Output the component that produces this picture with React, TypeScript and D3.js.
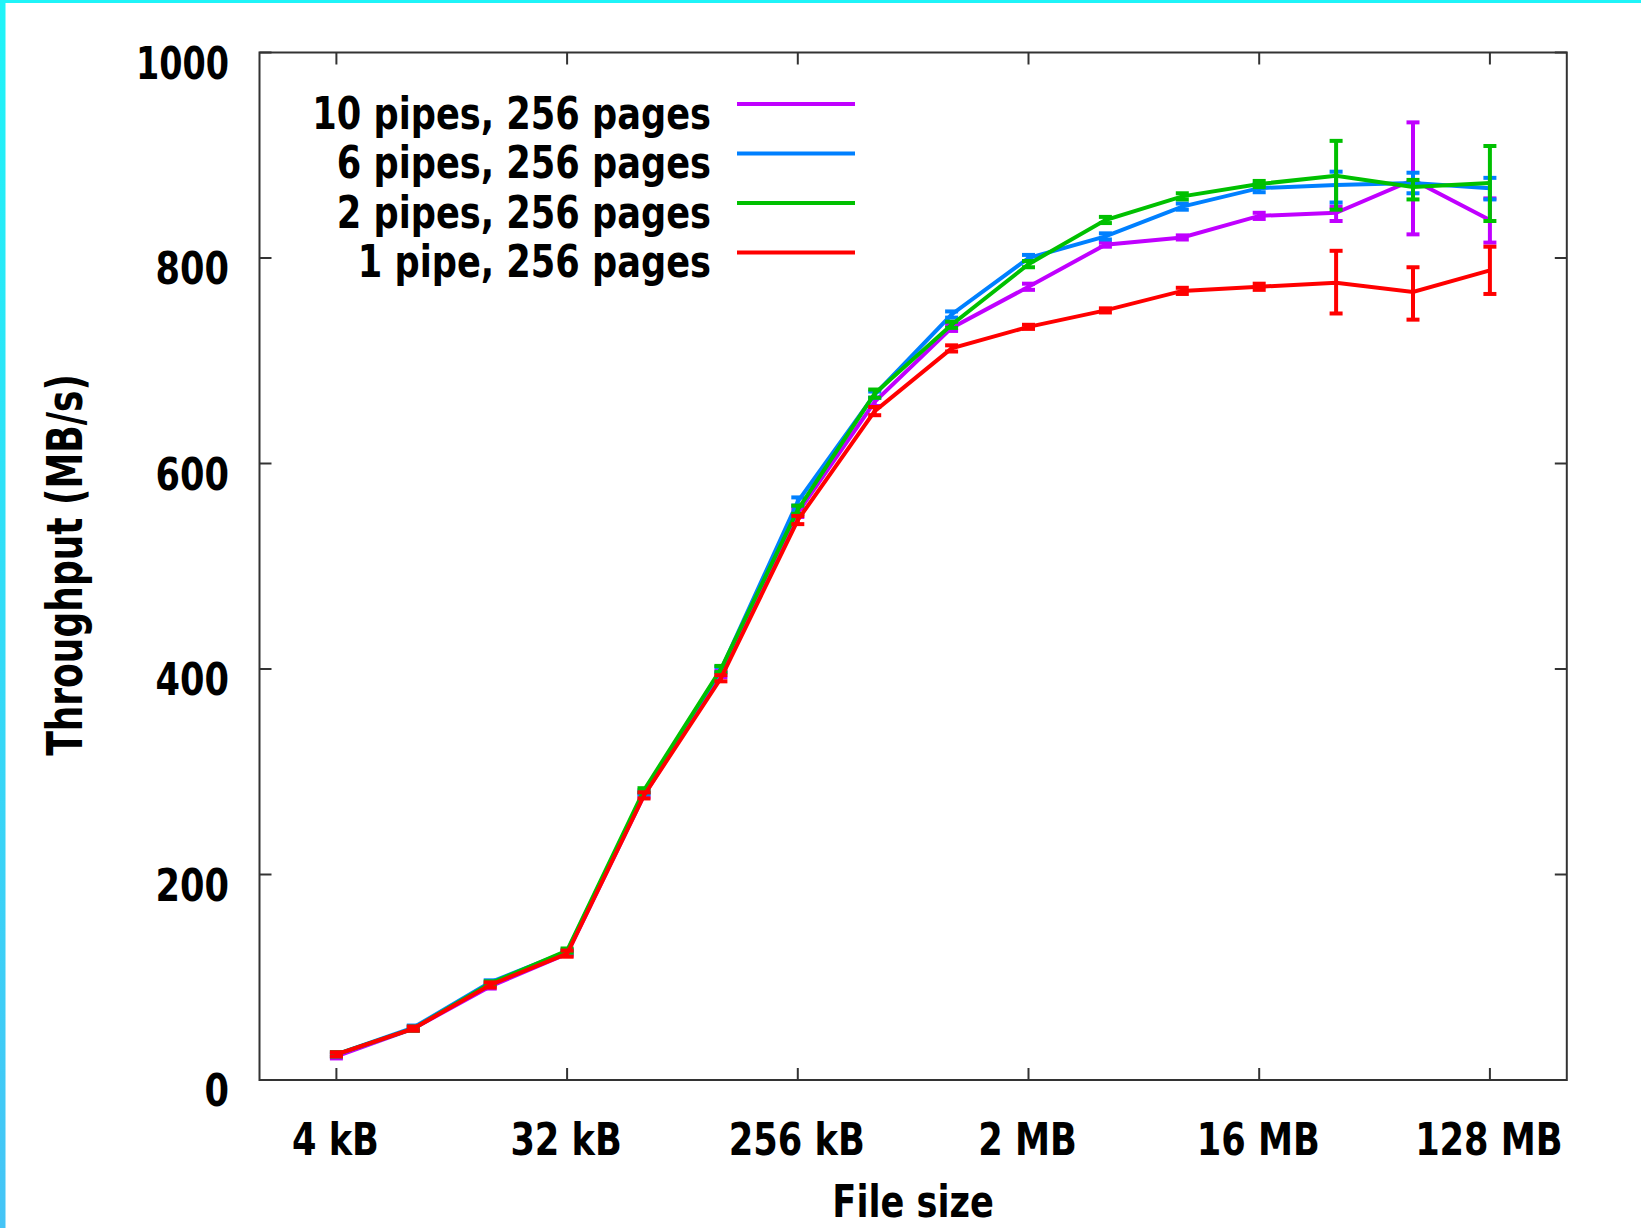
import React from 'react';
import * as d3 from 'd3';

// File sizes in kB (4 kB ... 128 MB)
const sizesKB = [4, 8, 16, 32, 64, 128, 256, 512, 1024, 2048, 4096, 8192, 16384, 32768, 65536, 131072];
const xTickValues = [4, 32, 256, 2048, 16384, 131072];
const xTickLabels = ['4 kB', '32 kB', '256 kB', '2 MB', '16 MB', '128 MB'];
const yTicks = [0, 200, 400, 600, 800, 1000];

const seriesNames = ['10 pipes, 256 pages', '6 pipes, 256 pages', '2 pipes, 256 pages', '1 pipe, 256 pages'];
const seriesColors = ['#c000ff', '#0080ff', '#00c000', '#ff0000'];

const pipes10 = [23, 50, 91, 123, 277, 395, 552, 660, 732, 772, 813, 820, 841, 844, 876, 837];
const pipes10Lo = [21, 48, 89, 121, 275, 392, 548, 656, 729, 769, 811, 818, 838, 836, 823, 815];
const pipes10Hi = [25, 52, 93, 125, 279, 398, 556, 664, 735, 775, 815, 822, 844, 850, 932, 858];

const pipes6 = [25, 51, 95, 125, 280, 399, 563, 667, 745, 800, 821, 850, 868, 871, 873, 868];
const pipes6Lo = [23, 49, 93, 123, 278, 396, 559, 664, 742, 797, 818, 847, 864, 854, 863, 857];
const pipes6Hi = [27, 53, 97, 127, 282, 402, 567, 670, 748, 803, 824, 853, 872, 884, 883, 878];

const pipes2 = [25, 50, 94, 126, 282, 400, 555, 668, 735, 794, 837, 860, 872, 880, 869, 873];
const pipes2Lo = [23, 48, 92, 124, 280, 397, 551, 664, 732, 791, 834, 857, 869, 847, 857, 836];
const pipes2Hi = [27, 52, 96, 128, 284, 403, 559, 672, 738, 797, 840, 863, 875, 914, 876, 909];

const pipes1 = [25, 50, 92.5, 123, 277, 391, 545, 651, 712, 733, 749, 768, 772, 776, 767, 788];
const pipes1Lo = [23, 48, 90, 120, 274, 388, 541, 647, 709, 731, 747, 765, 769, 746, 740, 765];
const pipes1Hi = [27, 52, 95, 126, 280, 394, 549, 655, 715, 735, 751, 771, 775, 807, 791, 811];

const seriesValues = [pipes10, pipes6, pipes2, pipes1];
const seriesLo = [pipes10Lo, pipes6Lo, pipes2Lo, pipes1Lo];
const seriesHi = [pipes10Hi, pipes6Hi, pipes2Hi, pipes1Hi];

const W = 1641;
const H = 1228;
const left = 259.5;
const right = 1566.8;
const top = 52.5;
const bottom = 1080;

const FONT = "'DejaVu Sans', sans-serif";
const FS = 44;
const SX = 0.8;

export default function App() {
  const x = d3.scaleLog().base(2).domain([2, 262144]).range([left, right]);
  const y = d3.scaleLinear().domain([0, 1000]).range([bottom, top]);
  const line = d3
    .line<number>()
    .x((_, i) => x(sizesKB[i]))
    .y((d) => y(d));

  const tickLen = 12;
  const capHalf = 6.5;

  return (
    <div style={{ position: 'absolute', left: 0, top: 0 }}>
      <svg width={W} height={H} viewBox={`0 0 ${W} ${H}`} style={{ display: 'block' }}>
        <defs>
          <linearGradient id="edge" x1="0" y1="0" x2="0" y2="1">
            <stop offset="0" stopColor="#1ff4f8" />
            <stop offset="1" stopColor="#45c4f6" />
          </linearGradient>
        </defs>
        <rect x={0} y={0} width={W} height={H} fill="#ffffff" />
        <rect x={0} y={0} width={W} height={3} fill="#1ff4f8" />
        <rect x={0} y={0} width={5.5} height={H} fill="url(#edge)" />

        {/* frame */}
        <rect x={left} y={top} width={right - left} height={bottom - top} fill="none" stroke="#333" strokeWidth={2} />

        {/* y ticks */}
        {yTicks.map((t) => (
          <g key={'y' + t}>
            <line x1={left} x2={left + tickLen} y1={y(t)} y2={y(t)} stroke="#333" strokeWidth={2} />
            <line x1={right - tickLen} x2={right} y1={y(t)} y2={y(t)} stroke="#333" strokeWidth={2} />
            <text
              transform={`translate(229,${y(t) + 26}) scale(${t === 1000 ? 0.76 : SX},1)`}
              textAnchor="end"
              fontFamily={FONT}
              fontWeight="bold"
              fontSize={FS}
              fill="#000"
            >
              {t}
            </text>
          </g>
        ))}

        {/* x ticks */}
        {xTickValues.map((t, i) => (
          <g key={'x' + t}>
            <line x1={x(t)} x2={x(t)} y1={bottom} y2={bottom - tickLen} stroke="#333" strokeWidth={2} />
            <line x1={x(t)} x2={x(t)} y1={top} y2={top + tickLen} stroke="#333" strokeWidth={2} />
            <text
              transform={`translate(${x(t) - 1},1155) scale(${SX},1)`}
              textAnchor="middle"
              fontFamily={FONT}
              fontWeight="bold"
              fontSize={FS}
              fill="#000"
            >
              {xTickLabels[i]}
            </text>
          </g>
        ))}

        {/* axis labels */}
        <text
          transform={`translate(${(left + right) / 2},1217) scale(${SX},1)`}
          textAnchor="middle"
          fontFamily={FONT}
          fontWeight="bold"
          fontSize={FS}
          fill="#000"
        >
          File size
        </text>
        <text
          transform={`translate(82,565) rotate(-90) scale(0.735,1)`}
          textAnchor="middle"
          fontFamily={FONT}
          fontWeight="bold"
          fontSize={49}
          fill="#000"
        >
          Throughput (MB/s)
        </text>

        {/* series */}
        {seriesValues.map((vals, s) => (
          <g key={'s' + s}>
            <path d={line(vals) || ''} fill="none" stroke={seriesColors[s]} strokeWidth={4} strokeLinejoin="miter" />
            {vals.map((_, i) => {
              const cx = x(sizesKB[i]);
              const y0 = y(seriesLo[s][i]);
              const y1 = y(seriesHi[s][i]);
              return (
                <g key={i}>
                  <line x1={cx} x2={cx} y1={y0} y2={y1} stroke={seriesColors[s]} strokeWidth={4} />
                  <line x1={cx - capHalf} x2={cx + capHalf} y1={y0} y2={y0} stroke={seriesColors[s]} strokeWidth={4} />
                  <line x1={cx - capHalf} x2={cx + capHalf} y1={y1} y2={y1} stroke={seriesColors[s]} strokeWidth={4} />
                </g>
              );
            })}
          </g>
        ))}

        {/* legend */}
        {seriesNames.map((name, s) => {
          const ly = 104 + s * 49.5;
          return (
            <g key={'l' + s}>
              <text
                transform={`translate(711,${ly + 24.5}) scale(${SX},1)`}
                textAnchor="end"
                fontFamily={FONT}
                fontWeight="bold"
                fontSize={FS}
                fill="#000"
              >
                {name}
              </text>
              <line x1={737} x2={855} y1={ly} y2={ly} stroke={seriesColors[s]} strokeWidth={4} />
            </g>
          );
        })}
      </svg>
    </div>
  );
}
